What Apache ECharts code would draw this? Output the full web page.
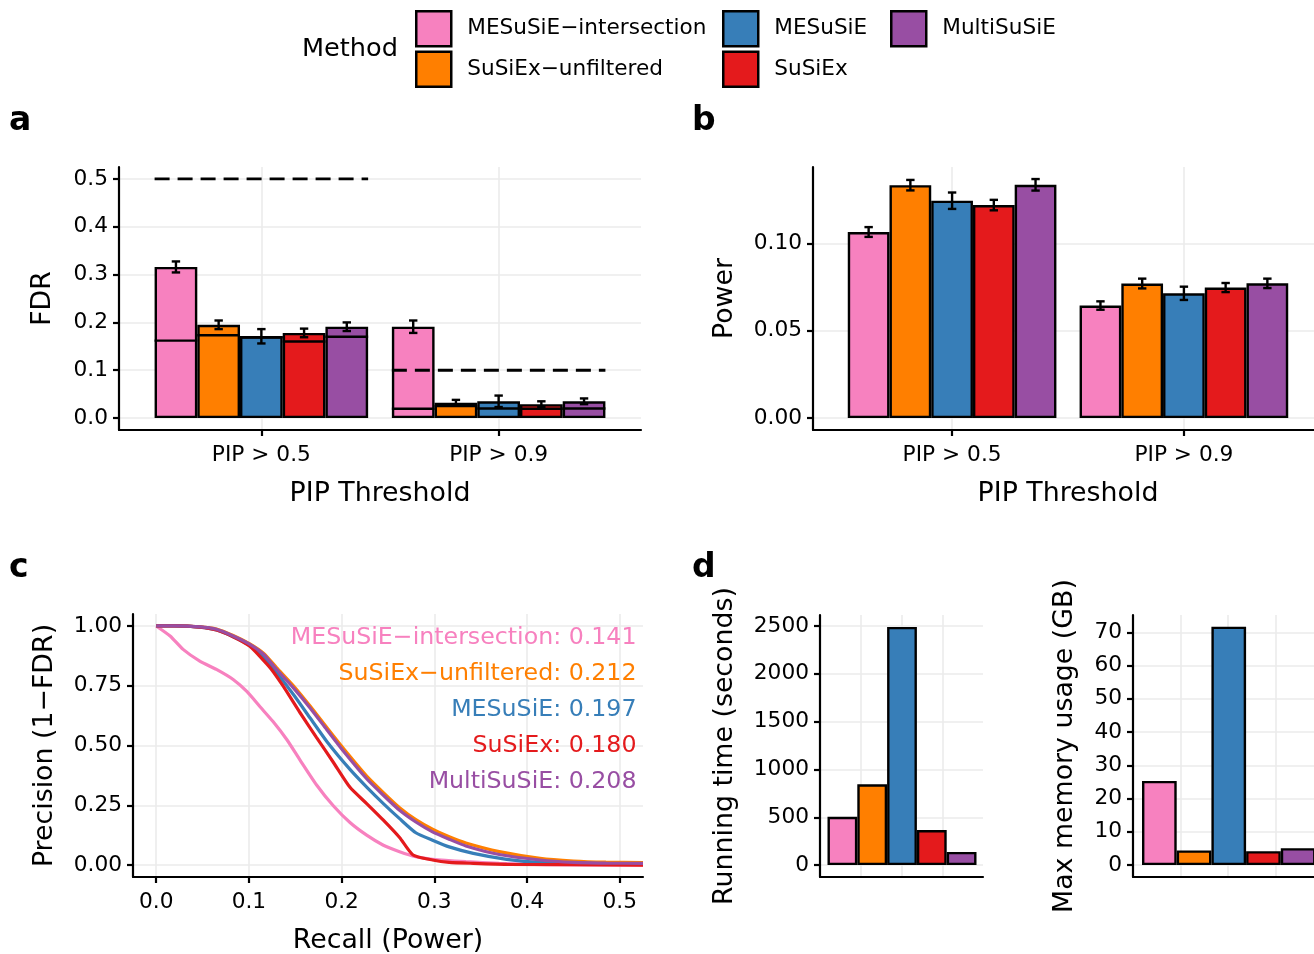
<!DOCTYPE html>
<html><head><meta charset="utf-8">
<script src="https://cdn.jsdelivr.net/npm/echarts@6/dist/echarts.min.js"></script>
<style>html,body{margin:0;padding:0;background:#fff}#c{width:1314px;height:954px}</style>
</head><body><div id="c"></div>
<script>
// ---------------- data ----------------
const methods = ['MESuSiE−intersection','SuSiEx−unfiltered','MESuSiE','SuSiEx','MultiSuSiE'];
const colors = ['#F781BF','#FF7F00','#377EB8','#E41A1C','#984EA3'];
const thresholds = ['PIP > 0.5','PIP > 0.9'];
const nominalFDR = [0.5, 0.1];

// panel a: FDR (bar top), its error, inner line
const fdrPip05 = [0.316, 0.195, 0.171, 0.178, 0.191];
const fdrPip05Err = [0.0115, 0.009, 0.015, 0.009, 0.009];
const fdrPip05Inner = [0.162, 0.173, 0.169, 0.160, 0.170];
const fdrPip09 = [0.191, 0.032, 0.035, 0.029, 0.035];
const fdrPip09Err = [0.013, 0.006, 0.012, 0.006, 0.006];
const fdrPip09Inner = [0.0195, 0.025, 0.020, 0.0195, 0.020];

// panel b: power
const powPip05 = [0.1065, 0.1333, 0.1244, 0.1219, 0.1335];
const powPip05Err = [0.0028, 0.003, 0.0047, 0.003, 0.0033];
const powPip09 = [0.0644, 0.0770, 0.0714, 0.0747, 0.0771];
const powPip09Err = [0.0024, 0.0028, 0.0038, 0.0026, 0.0027];

// panel c: precision-recall curves
const prIntersectR = [0, 0.015, 0.029, 0.047, 0.065, 0.083, 0.098, 0.112, 0.126, 0.141, 0.155, 0.173, 0.191, 0.209, 0.227, 0.245, 0.2625, 0.28, 0.298, 0.334, 0.37, 0.42, 0.525];
const prIntersectP = [1.0, 0.958, 0.902, 0.853, 0.818, 0.776, 0.725, 0.662, 0.6, 0.524, 0.44, 0.335, 0.248, 0.178, 0.125, 0.083, 0.056, 0.035, 0.024, 0.014, 0.007, 0.002, 0.0];
const prUnfiltR = [0, 0.02, 0.047, 0.065, 0.083, 0.101, 0.116, 0.13, 0.148, 0.166, 0.184, 0.202, 0.227, 0.245, 0.2625, 0.28, 0.298, 0.316, 0.334, 0.37, 0.414, 0.45, 0.485, 0.525];
const prUnfiltP = [1.0, 1.0, 0.996, 0.987, 0.96, 0.925, 0.885, 0.825, 0.75, 0.665, 0.575, 0.487, 0.372, 0.303, 0.24, 0.19, 0.15, 0.118, 0.092, 0.056, 0.028, 0.017, 0.012, 0.01];
const prMesusieR = [0, 0.02, 0.047, 0.065, 0.083, 0.101, 0.116, 0.13, 0.148, 0.166, 0.184, 0.209, 0.227, 0.245, 0.2625, 0.28, 0.298, 0.316, 0.342, 0.378, 0.414, 0.485, 0.525];
const prMesusieP = [1.0, 1.0, 0.995, 0.983, 0.955, 0.918, 0.87, 0.804, 0.713, 0.615, 0.517, 0.40, 0.326, 0.257, 0.194, 0.135, 0.104, 0.076, 0.049, 0.024, 0.011, 0.006, 0.005];
const prSusiexR = [0, 0.02, 0.047, 0.065, 0.083, 0.101, 0.116, 0.125, 0.137, 0.155, 0.173, 0.191, 0.209, 0.227, 0.245, 0.2625, 0.277, 0.298, 0.316, 0.342, 0.378, 0.525];
const prSusiexP = [1.0, 1.0, 0.995, 0.983, 0.955, 0.915, 0.855, 0.815, 0.748, 0.638, 0.533, 0.43, 0.325, 0.257, 0.1875, 0.115, 0.042, 0.021, 0.011, 0.007, 0.003, 0.0];
const prMultiR = [0, 0.02, 0.047, 0.065, 0.083, 0.101, 0.116, 0.13, 0.148, 0.166, 0.184, 0.202, 0.227, 0.245, 0.2625, 0.28, 0.298, 0.316, 0.334, 0.37, 0.414, 0.45, 0.485, 0.525];
const prMultiP = [1.0, 1.0, 0.996, 0.986, 0.958, 0.923, 0.881, 0.818, 0.741, 0.657, 0.566, 0.476, 0.361, 0.292, 0.229, 0.18, 0.139, 0.108, 0.08, 0.044, 0.021, 0.011, 0.008, 0.007];
const auprc = [0.141, 0.212, 0.197, 0.180, 0.208];

// panel d
const runtimeSec = [505, 845, 2490, 367, 138];
const memoryGB = [25.3, 4.4, 71.7, 4.2, 5.1];

// tick labels
const ticksFDR = [0, 0.1, 0.2, 0.3, 0.4, 0.5];
const ticksPower = [0, 0.05, 0.10];
const ticksRecall = [0, 0.1, 0.2, 0.3, 0.4, 0.5];
const ticksPrecision = [0, 0.25, 0.5, 0.75, 1.0];
const ticksRuntime = [0, 500, 1000, 1500, 2000, 2500];
const ticksMemory = [0, 10, 20, 30, 40, 50, 60, 70];
const ticksThreshold = [1, 2];
const ticksDGrid = [1, 2, 3];

// ---------------- styling ----------------
const FONT = "'DejaVu Sans', sans-serif";
const TICK_FS = 21.7, TITLE_FS = 26.8;
const GRIDC = '#EBEBEB';
const prR = [prIntersectR, prUnfiltR, prMesusieR, prSusiexR, prMultiR];
const prP = [prIntersectP, prUnfiltP, prMesusieP, prSusiexP, prMultiP];

function grid(l, t, w, h) { return {left: l, top: t, width: w, height: h, containLabel: false, outerBoundsMode: 'none'}; }
const grids = [
  grid(119, 167, 522, 263),   // a
  grid(813, 167, 510, 263),   // b
  grid(133, 614, 510, 263),   // c
  grid(820, 615, 163, 262),   // d running, axes
  grid(827.5, 615, 149, 262), // d running, bars
  grid(1133, 615, 190, 262),  // d memory, axes
  grid(1142, 615, 173.5, 262) // d memory, bars
];

function valueAxis(o) {
  const ax = {
    type: 'value', gridIndex: o.grid, min: o.min, max: o.max,
    axisLine: {show: true, onZero: false, lineStyle: {color: '#000', width: 2.2}},
    axisTick: {show: o.ticks !== false, length: 6, lineStyle: {color: '#000', width: 2.2}, customValues: o.custom},
    axisLabel: {show: o.labels !== false, customValues: o.custom, formatter: o.fmt, fontSize: TICK_FS, fontFamily: FONT, color: '#000', margin: o.margin || 11, showMinLabel: true, showMaxLabel: true},
    splitLine: {show: true, showMinLine: true, showMaxLine: true, lineStyle: {color: GRIDC, width: 1.6}},
  };
  if (o.name) {
    ax.name = o.name; ax.nameLocation = 'middle'; ax.nameGap = o.nameGap;
    if (o.rot) ax.nameRotate = 90;
    ax.nameTextStyle = {fontSize: TITLE_FS, fontFamily: FONT, color: '#000'};
  }
  return ax;
}
function hiddenAxis(type, gi, min, max, data) {
  const a = {type: type, gridIndex: gi, show: false};
  if (type === 'category') { a.data = data; } else { a.min = min; a.max = max; }
  return a;
}

const xAxes = [
  valueAxis({grid: 0, min: 0.4, max: 2.6, custom: ticksThreshold, fmt: v => thresholds[Math.round(v) - 1], name: 'PIP Threshold', nameGap: 51, margin: 14}),
  valueAxis({grid: 1, min: 0.4, max: 2.6, custom: ticksThreshold, fmt: v => thresholds[Math.round(v) - 1], name: 'PIP Threshold', nameGap: 51, margin: 14}),
  valueAxis({grid: 2, min: -0.025, max: 0.525, custom: ticksRecall, fmt: v => v.toFixed(1), name: 'Recall (Power)', nameGap: 51, margin: 14}),
  valueAxis({grid: 3, min: 0, max: 4, custom: ticksDGrid, ticks: false, labels: false}),
  hiddenAxis('category', 4, null, null, methods),
  valueAxis({grid: 5, min: 0, max: 4, custom: ticksDGrid, ticks: false, labels: false}),
  hiddenAxis('category', 6, null, null, methods)
];
const yAxes = [
  valueAxis({grid: 0, min: -0.025, max: 0.525, custom: ticksFDR, fmt: v => v.toFixed(1), name: 'FDR', nameGap: 62, rot: true}),
  valueAxis({grid: 1, min: -0.00684, max: 0.1437, custom: ticksPower, fmt: v => v.toFixed(2), name: 'Power', nameGap: 74, rot: true}),
  valueAxis({grid: 2, min: -0.05, max: 1.05, custom: ticksPrecision, fmt: v => v.toFixed(2), name: 'Precision (1−FDR)', nameGap: 74, rot: true}),
  valueAxis({grid: 3, min: -124.5, max: 2614.5, custom: ticksRuntime, fmt: v => String(v), name: 'Running time (seconds)', nameGap: 81, rot: true}),
  hiddenAxis('value', 4, -124.5, 2614.5),
  valueAxis({grid: 5, min: -3.58, max: 75.2, custom: ticksMemory, fmt: v => String(v), name: 'Max memory usage (GB)', nameGap: 54, rot: true}),
  hiddenAxis('value', 6, -3.58, 75.2)
];

const series = [];
const DODGE = 0.9 / methods.length;
// panel a & b bars
[[fdrPip05, fdrPip09, 0], [powPip05, powPip09, 1]].forEach(([v1, v2, gi]) => {
  methods.forEach((m, i) => {
    series.push({
      type: 'bar', name: m, xAxisIndex: gi, yAxisIndex: gi,
      data: [[ticksThreshold[0], v1[i]], [ticksThreshold[1], v2[i]]],
      barGap: '0%', barCategoryGap: '10%',
      itemStyle: {color: colors[i], borderColor: '#000', borderWidth: 2.4},
      emphasis: {disabled: true}, z: 2
    });
  });
});
function errRender(i, withInner) {
  return function (params, api) {
    const x = api.value(0) + (i - (methods.length - 1) / 2) * DODGE;
    const v = api.value(1), e = api.value(2);
    const lo = api.coord([x, v - e]), hi = api.coord([x, v + e]);
    const st = {stroke: '#000', lineWidth: 2.4};
    const ch = [];
    if (withInner) {
      const inn = api.value(3);
      const l = api.coord([x - DODGE / 2, inn]), r = api.coord([x + DODGE / 2, inn]);
      ch.push({type: 'line', shape: {x1: l[0], y1: l[1], x2: r[0], y2: r[1]}, style: {stroke: '#000', lineWidth: 2.4}});
    }
    const cw = 4.2;
    ch.push({type: 'line', shape: {x1: lo[0], y1: lo[1], x2: hi[0], y2: hi[1]}, style: st});
    ch.push({type: 'line', shape: {x1: lo[0] - cw, y1: lo[1], x2: lo[0] + cw, y2: lo[1]}, style: st});
    ch.push({type: 'line', shape: {x1: hi[0] - cw, y1: hi[1], x2: hi[0] + cw, y2: hi[1]}, style: st});
    return {type: 'group', children: ch};
  };
}
methods.forEach((m, i) => {
  series.push({
    type: 'custom', name: m, xAxisIndex: 0, yAxisIndex: 0, z: 5, silent: true,
    data: [[ticksThreshold[0], fdrPip05[i], fdrPip05Err[i], fdrPip05Inner[i]], [ticksThreshold[1], fdrPip09[i], fdrPip09Err[i], fdrPip09Inner[i]]],
    renderItem: errRender(i, true)
  });
  series.push({
    type: 'custom', name: m, xAxisIndex: 1, yAxisIndex: 1, z: 5, silent: true,
    data: [[ticksThreshold[0], powPip05[i], powPip05Err[i]], [ticksThreshold[1], powPip09[i], powPip09Err[i]]],
    renderItem: errRender(i, false)
  });
});
// nominal FDR dashed lines
series.push({
  type: 'custom', xAxisIndex: 0, yAxisIndex: 0, z: 6, silent: true,
  data: nominalFDR.map((f, k) => [ticksThreshold[k], f]),
  renderItem: function (params, api) {
    const x = api.value(0), y = api.value(1);
    const a = api.coord([x - 0.45, y]), b = api.coord([x + 0.45, y]);
    return {type: 'line', shape: {x1: a[0], y1: a[1], x2: b[0], y2: b[1]}, style: {stroke: '#000', lineWidth: 2.8, lineDash: [15, 8]}};
  }
});
// panel c curves
methods.forEach((m, i) => {
  series.push({
    type: 'line', name: m, xAxisIndex: 2, yAxisIndex: 2, showSymbol: false, symbol: 'none', smooth: 0.2,
    data: prR[i].map((r, k) => [r, prP[i][k]]),
    lineStyle: {color: colors[i], width: 3.2}, itemStyle: {color: colors[i]},
    emphasis: {disabled: true}, z: 3 + i, silent: true
  });
});
// panel c AUPRC labels
series.push({
  type: 'custom', xAxisIndex: 2, yAxisIndex: 2, z: 20, silent: true,
  data: methods.map((m, i) => [0.518, 0.95 - 0.15 * i, i]),
  renderItem: function (params, api) {
    const i = api.value(2);
    const p = api.coord([api.value(0), api.value(1)]);
    return {type: 'text', x: p[0], y: p[1], style: {text: methods[i] + ': ' + auprc[i].toFixed(3), fill: colors[i], align: 'right', verticalAlign: 'middle', fontSize: 23.7, fontFamily: FONT}};
  }
});
// panel d bars
[[runtimeSec, 4], [memoryGB, 6]].forEach(([vals, gi]) => {
  series.push({
    type: 'bar', xAxisIndex: gi, yAxisIndex: gi, barCategoryGap: '0%',
    data: vals.map((v, i) => ({value: v, itemStyle: {color: colors[i]}})),
    itemStyle: {borderColor: '#000', borderWidth: 2.4}, emphasis: {disabled: true}, silent: true
  });
});

const legendBase = {
  orient: 'vertical', itemGap: 3, itemWidth: 35, itemHeight: 35, icon: 'rect', selectedMode: false,
  itemStyle: {borderColor: '#000', borderWidth: 2.5},
  textStyle: {fontSize: 21.6, fontFamily: FONT, color: '#000', padding: [3, 0, 0, 11]}, padding: 0
};
const legends = [
  Object.assign({}, legendBase, {data: [methods[0], methods[1]], left: 415, top: 10}),
  Object.assign({}, legendBase, {data: [methods[2], methods[3]], left: 722, top: 10}),
  Object.assign({}, legendBase, {data: [methods[4]], left: 890, top: 10})
];

function txt(t, x, y, fs, bold) {
  return {type: 'text', x: x, y: y, style: {text: t, fontSize: fs, fontFamily: FONT, fontWeight: bold ? 'bold' : 'normal', fill: '#000', verticalAlign: 'middle', align: 'left'}};
}

const chart = echarts.init(document.getElementById('c'), null, {renderer: 'canvas'});
chart.setOption({
  animation: false,
  backgroundColor: '#fff',
  grid: grids, xAxis: xAxes, yAxis: yAxes, series: series, legend: legends,
  graphic: [
    txt('Method', 302, 49, 25.6, false),
    txt('a', 9, 121, 33, true), txt('b', 692, 121, 33, true),
    txt('c', 9, 568, 33, true), txt('d', 692, 568, 33, true)
  ]
});
</script></body></html>
